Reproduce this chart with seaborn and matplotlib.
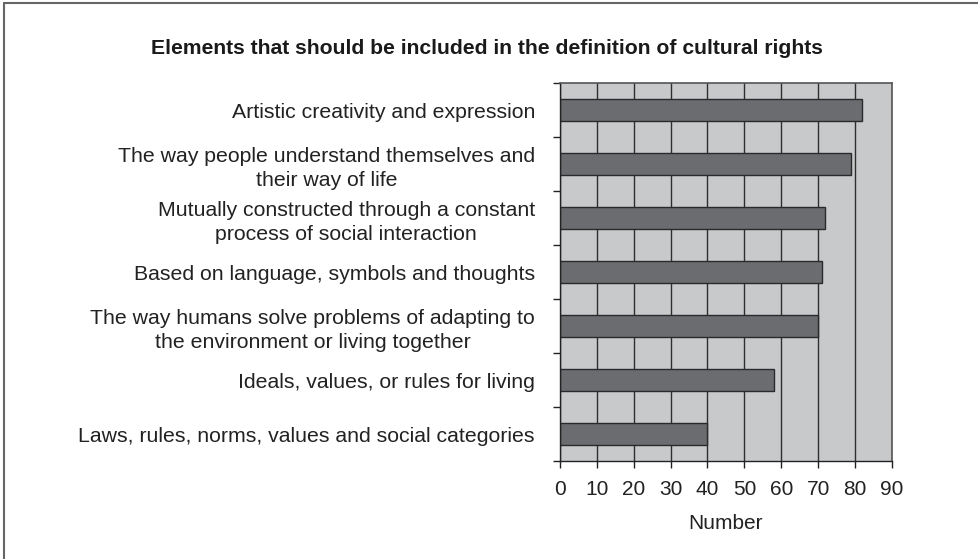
import pandas as pd
import numpy as np
import matplotlib
matplotlib.use("Agg")
import matplotlib.pyplot as plt
import seaborn as sns
from matplotlib.lines import Line2D

sns.set_style("white")
plt.rcParams.update({'font.size': 15, 'font.family': ['Liberation Sans', 'DejaVu Sans']})

categories = ["Artistic creativity and expression",
	"The way people understand themselves and\ntheir way of life",
	"Mutually constructed through a constant\nprocess of social interaction",
	"Based on language, symbols and thoughts",
	"The way humans solve problems of adapting to\nthe environment or living together",
	"Ideals, values, or rules for living",
	"Laws, rules, norms, values and social categories"]
values = [82, 79, 72, 71, 70, 58, 40]
xticks = [0, 10, 20, 30, 40, 50, 60, 70, 80, 90]

df = pd.DataFrame({"Element": categories, "Number": values})

fig = plt.figure(figsize=(9.79, 5.59), dpi=100)
ax = fig.add_axes([0.572, 0.1753, 0.339, 0.6762])
ax.set_facecolor("#c8c9cb")
ax.set_axisbelow(True)

sns.barplot(x="Number", y="Element", data=df, order=categories, orient="h",
	color="#6b6c70", edgecolor="#2a2a2a", linewidth=1, width=0.41, saturation=1, ax=ax)

ax.set_xlim(0, 90)
ax.set_ylim(len(categories) - 0.5, -0.5)
ax.set_xticks(xticks)
ax.set_xticklabels([str(i) for i in xticks], fontsize=15, color="#222222")
ax.xaxis.grid(True, color="#2e2e2e", linewidth=1)
ax.yaxis.grid(False)

# ticks between categories, labels centred on bars
ax.set_yticks(np.arange(len(categories) + 1) - 0.5)
ax.set_yticklabels([])
ax.set_yticks(np.arange(len(categories)), minor=True)
ax.set_yticklabels(categories, minor=True, fontsize=15.3, multialignment="center", linespacing=1.3, color="#222222")
ax.tick_params(axis="y", which="major", direction="out", length=5, width=1, color="#222222", left=True)
ax.tick_params(axis="y", which="minor", length=0, pad=18)
ax.tick_params(axis="x", direction="out", length=5, width=1, color="#222222", bottom=True, pad=8.5)

ax.set_ylabel("")
ax.set_xlabel("Number", fontsize=15, labelpad=11, color="#222222")

for s in ["left", "bottom"]:
	ax.spines[s].set_color("#222222")
	ax.spines[s].set_linewidth(1)
for s in ["top", "right"]:
	ax.spines[s].set_color("#555555")
	ax.spines[s].set_linewidth(1.2)

fig.text(0.497, 0.914, "Elements that should be included in the definition of cultural rights",
	ha="center", va="center", fontsize=15.2, fontweight="bold", color="#1a1a1a")

# frame around the figure (top and left edges visible)
fig.add_artist(Line2D([0.004, 1.0], [0.994, 0.994], transform=fig.transFigure, color="#666666", linewidth=1.5))
fig.add_artist(Line2D([0.0045, 0.0045], [0.0, 0.994], transform=fig.transFigure, color="#666666", linewidth=1.5))

plt.savefig("out.png", dpi=100)
